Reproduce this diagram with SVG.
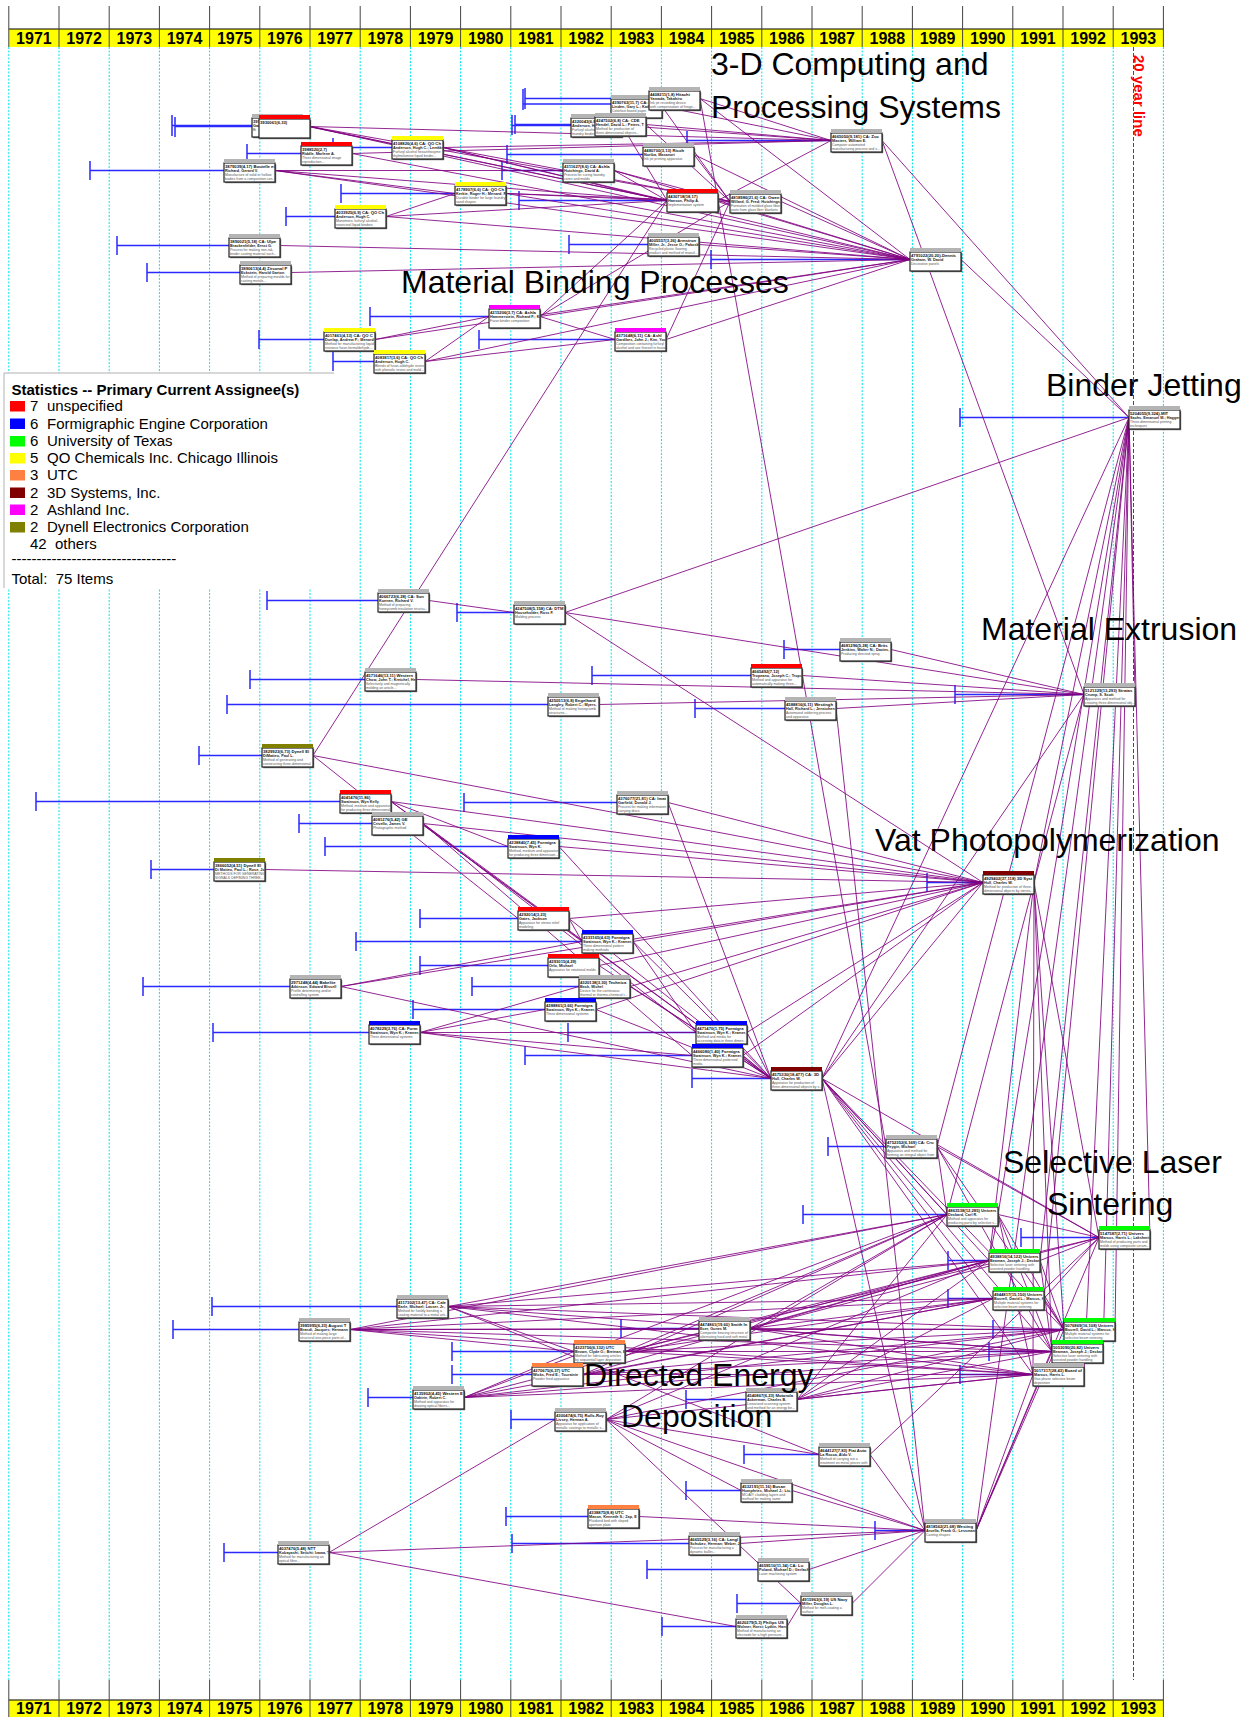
<svg xmlns="http://www.w3.org/2000/svg" width="1247" height="1717" viewBox="0 0 1247 1717">
<style>
.g{stroke:#00e5ee;stroke-width:1;stroke-dasharray:2 1.5}
.tk{stroke:#444;stroke-width:1}
.yr{font:bold 16px "Liberation Sans",Arial,sans-serif;text-anchor:middle;fill:#000}
.c{stroke:#800080;stroke-width:1;stroke-opacity:.85}
.b{stroke:#2a2aff;stroke-width:1.5;fill:none}
.sh{fill:#666}
.bx{fill:#fff;stroke:#222;stroke-width:1.2}
.t1{font:bold 4.2px "Liberation Sans",Arial,sans-serif;fill:#111}
.t2{font:bold 3.8px "Liberation Sans",Arial,sans-serif;fill:#222}
.t3{font:3.5px "Liberation Sans",Arial,sans-serif;fill:#555}
.lab{font:32px "Liberation Sans",Arial,sans-serif;fill:#000}
.lg{font:15px "Liberation Sans",Arial,sans-serif;fill:#000;white-space:pre}
.hr{fill:#ff0000}.hb{fill:#0000ff}.hg{fill:#00ff00}.hy{fill:#ffff00}.ho{fill:#ff8040}.hd{fill:#800000}.hm{fill:#ff00ff}.hv{fill:#808000}.hx{fill:#b4b4b4}
</style>
<defs><clipPath id="cp"><rect x="0" y="4" width="50.5" height="19"/></clipPath></defs>
<rect width="1247" height="1717" fill="#fff"/>
<g id="grid">
<line class="g" x1="8.8" y1="47" x2="8.8" y2="1680"/><line class="g" x1="59" y1="47" x2="59" y2="1680"/><line class="g" x1="109.2" y1="47" x2="109.2" y2="1680"/><line class="g" x1="159.4" y1="47" x2="159.4" y2="1680"/><line class="g" x1="209.6" y1="47" x2="209.6" y2="1680"/><line class="g" x1="259.8" y1="47" x2="259.8" y2="1680"/><line class="g" x1="310" y1="47" x2="310" y2="1680"/><line class="g" x1="360.2" y1="47" x2="360.2" y2="1680"/><line class="g" x1="410.4" y1="47" x2="410.4" y2="1680"/><line class="g" x1="460.6" y1="47" x2="460.6" y2="1680"/><line class="g" x1="510.8" y1="47" x2="510.8" y2="1680"/><line class="g" x1="561" y1="47" x2="561" y2="1680"/><line class="g" x1="611.2" y1="47" x2="611.2" y2="1680"/><line class="g" x1="661.4" y1="47" x2="661.4" y2="1680"/><line class="g" x1="711.6" y1="47" x2="711.6" y2="1680"/><line class="g" x1="761.8" y1="47" x2="761.8" y2="1680"/><line class="g" x1="812" y1="47" x2="812" y2="1680"/><line class="g" x1="862.2" y1="47" x2="862.2" y2="1680"/><line class="g" x1="912.4" y1="47" x2="912.4" y2="1680"/><line class="g" x1="962.6" y1="47" x2="962.6" y2="1680"/><line class="g" x1="1012.8" y1="47" x2="1012.8" y2="1680"/><line class="g" x1="1063" y1="47" x2="1063" y2="1680"/><line class="g" x1="1113.2" y1="47" x2="1113.2" y2="1680"/><line class="g" x1="1163.4" y1="47" x2="1163.4" y2="1680"/>
<line x1="1133.5" y1="47" x2="1133.5" y2="1680" stroke="#ff0000" stroke-width="1" stroke-dasharray="4 2"/>
<text transform="translate(1134,55) rotate(90)" style="font:bold 15px 'Liberation Sans',Arial,sans-serif;fill:#ff0000">20 year line</text>
</g>
<g id="axis-top">
<rect x="8.8" y="29" width="1154.6" height="18" fill="#ffff00"/>
<line x1="8.8" y1="29" x2="1163.4" y2="29" stroke="#000" stroke-width="1.2"/>
<line class="tk" x1="8.8" y1="6" x2="8.8" y2="47"/><line class="tk" x1="59" y1="6" x2="59" y2="47"/><line class="tk" x1="109.2" y1="6" x2="109.2" y2="47"/><line class="tk" x1="159.4" y1="6" x2="159.4" y2="47"/><line class="tk" x1="209.6" y1="6" x2="209.6" y2="47"/><line class="tk" x1="259.8" y1="6" x2="259.8" y2="47"/><line class="tk" x1="310" y1="6" x2="310" y2="47"/><line class="tk" x1="360.2" y1="6" x2="360.2" y2="47"/><line class="tk" x1="410.4" y1="6" x2="410.4" y2="47"/><line class="tk" x1="460.6" y1="6" x2="460.6" y2="47"/><line class="tk" x1="510.8" y1="6" x2="510.8" y2="47"/><line class="tk" x1="561" y1="6" x2="561" y2="47"/><line class="tk" x1="611.2" y1="6" x2="611.2" y2="47"/><line class="tk" x1="661.4" y1="6" x2="661.4" y2="47"/><line class="tk" x1="711.6" y1="6" x2="711.6" y2="47"/><line class="tk" x1="761.8" y1="6" x2="761.8" y2="47"/><line class="tk" x1="812" y1="6" x2="812" y2="47"/><line class="tk" x1="862.2" y1="6" x2="862.2" y2="47"/><line class="tk" x1="912.4" y1="6" x2="912.4" y2="47"/><line class="tk" x1="962.6" y1="6" x2="962.6" y2="47"/><line class="tk" x1="1012.8" y1="6" x2="1012.8" y2="47"/><line class="tk" x1="1063" y1="6" x2="1063" y2="47"/><line class="tk" x1="1113.2" y1="6" x2="1113.2" y2="47"/><line class="tk" x1="1163.4" y1="6" x2="1163.4" y2="47"/>
<text class="yr" x="33.9" y="44">1971</text><text class="yr" x="84.1" y="44">1972</text><text class="yr" x="134.3" y="44">1973</text><text class="yr" x="184.5" y="44">1974</text><text class="yr" x="234.7" y="44">1975</text><text class="yr" x="284.9" y="44">1976</text><text class="yr" x="335.1" y="44">1977</text><text class="yr" x="385.3" y="44">1978</text><text class="yr" x="435.5" y="44">1979</text><text class="yr" x="485.7" y="44">1980</text><text class="yr" x="535.9" y="44">1981</text><text class="yr" x="586.1" y="44">1982</text><text class="yr" x="636.3" y="44">1983</text><text class="yr" x="686.5" y="44">1984</text><text class="yr" x="736.7" y="44">1985</text><text class="yr" x="786.9" y="44">1986</text><text class="yr" x="837.1" y="44">1987</text><text class="yr" x="887.3" y="44">1988</text><text class="yr" x="937.5" y="44">1989</text><text class="yr" x="987.7" y="44">1990</text><text class="yr" x="1037.9" y="44">1991</text><text class="yr" x="1088.1" y="44">1992</text><text class="yr" x="1138.3" y="44">1993</text>
</g>
<g id="axis-bottom">
<rect x="8.8" y="1700" width="1154.6" height="17" fill="#ffff00"/>
<line x1="8.8" y1="1700" x2="1163.4" y2="1700" stroke="#000" stroke-width="1.2"/>
<line class="tk" x1="8.8" y1="1680" x2="8.8" y2="1717"/><line class="tk" x1="59" y1="1680" x2="59" y2="1717"/><line class="tk" x1="109.2" y1="1680" x2="109.2" y2="1717"/><line class="tk" x1="159.4" y1="1680" x2="159.4" y2="1717"/><line class="tk" x1="209.6" y1="1680" x2="209.6" y2="1717"/><line class="tk" x1="259.8" y1="1680" x2="259.8" y2="1717"/><line class="tk" x1="310" y1="1680" x2="310" y2="1717"/><line class="tk" x1="360.2" y1="1680" x2="360.2" y2="1717"/><line class="tk" x1="410.4" y1="1680" x2="410.4" y2="1717"/><line class="tk" x1="460.6" y1="1680" x2="460.6" y2="1717"/><line class="tk" x1="510.8" y1="1680" x2="510.8" y2="1717"/><line class="tk" x1="561" y1="1680" x2="561" y2="1717"/><line class="tk" x1="611.2" y1="1680" x2="611.2" y2="1717"/><line class="tk" x1="661.4" y1="1680" x2="661.4" y2="1717"/><line class="tk" x1="711.6" y1="1680" x2="711.6" y2="1717"/><line class="tk" x1="761.8" y1="1680" x2="761.8" y2="1717"/><line class="tk" x1="812" y1="1680" x2="812" y2="1717"/><line class="tk" x1="862.2" y1="1680" x2="862.2" y2="1717"/><line class="tk" x1="912.4" y1="1680" x2="912.4" y2="1717"/><line class="tk" x1="962.6" y1="1680" x2="962.6" y2="1717"/><line class="tk" x1="1012.8" y1="1680" x2="1012.8" y2="1717"/><line class="tk" x1="1063" y1="1680" x2="1063" y2="1717"/><line class="tk" x1="1113.2" y1="1680" x2="1113.2" y2="1717"/><line class="tk" x1="1163.4" y1="1680" x2="1163.4" y2="1717"/>
<text class="yr" x="33.9" y="1714">1971</text><text class="yr" x="84.1" y="1714">1972</text><text class="yr" x="134.3" y="1714">1973</text><text class="yr" x="184.5" y="1714">1974</text><text class="yr" x="234.7" y="1714">1975</text><text class="yr" x="284.9" y="1714">1976</text><text class="yr" x="335.1" y="1714">1977</text><text class="yr" x="385.3" y="1714">1978</text><text class="yr" x="435.5" y="1714">1979</text><text class="yr" x="485.7" y="1714">1980</text><text class="yr" x="535.9" y="1714">1981</text><text class="yr" x="586.1" y="1714">1982</text><text class="yr" x="636.3" y="1714">1983</text><text class="yr" x="686.5" y="1714">1984</text><text class="yr" x="736.7" y="1714">1985</text><text class="yr" x="786.9" y="1714">1986</text><text class="yr" x="837.1" y="1714">1987</text><text class="yr" x="887.3" y="1714">1988</text><text class="yr" x="937.5" y="1714">1989</text><text class="yr" x="987.7" y="1714">1990</text><text class="yr" x="1037.9" y="1714">1991</text><text class="yr" x="1088.1" y="1714">1992</text><text class="yr" x="1138.3" y="1714">1993</text>
</g>
<g id="legend">
<rect x="4" y="373" width="330" height="215" fill="#fff"/>
<path d="M4 588V373H334" fill="none" stroke="#b0b0b0" stroke-width="1"/>
<text x="11.5" y="395" style="font:bold 15px 'Liberation Sans',Arial,sans-serif">Statistics -- Primary Current Assignee(s)</text>
<rect x="10" y="401" width="15" height="10.5" class="hr"/><text class="lg" x="30" y="411">7</text><text class="lg" x="47" y="411">unspecified</text>
<rect x="10" y="418.5" width="15" height="10.5" class="hb"/><text class="lg" x="30" y="428.5">6</text><text class="lg" x="47" y="428.5">Formigraphic Engine Corporation</text>
<rect x="10" y="436" width="15" height="10.5" class="hg"/><text class="lg" x="30" y="446">6</text><text class="lg" x="47" y="446">University of Texas</text>
<rect x="10" y="453" width="15" height="10.5" class="hy"/><text class="lg" x="30" y="463">5</text><text class="lg" x="47" y="463">QO Chemicals Inc. Chicago Illinois</text>
<rect x="10" y="470" width="15" height="10.5" class="ho"/><text class="lg" x="30" y="480">3</text><text class="lg" x="47" y="480">UTC</text>
<rect x="10" y="487.5" width="15" height="10.5" class="hd"/><text class="lg" x="30" y="497.5">2</text><text class="lg" x="47" y="497.5">3D Systems, Inc.</text>
<rect x="10" y="504.5" width="15" height="10.5" class="hm"/><text class="lg" x="30" y="514.5">2</text><text class="lg" x="47" y="514.5">Ashland Inc.</text>
<rect x="10" y="522" width="15" height="10.5" class="hv"/><text class="lg" x="30" y="532">2</text><text class="lg" x="47" y="532">Dynell Electronics Corporation</text>
<text class="lg" x="30" y="548.5">42</text><text class="lg" x="55" y="548.5">others</text>
<text class="lg" x="11.5" y="563.5">---------------------------------</text>
<text class="lg" x="11.5" y="583.5" xml:space="preserve">Total:  75 Items</text>
</g>
<g id="priority-lines" class="b">
<path d="M172 115V136M172 125.5H252M175 117V137M175 126.5H259M247 144V163M247 153.5H301M333 138V157M333 147.5H392M90 161V180M90 170.5H224M341 184V203M341 193.5H455M286 207V226M286 216.5H335M117 236V255M117 245.5H229M147 263V282M147 272.5H240M370 307V326M370 316.5H489M259 330V349M259 339.5H324M333 352V371M333 361.5H374M479 330V349M479 339.5H615M523 89V110M523 104H611M525 88V109M525 98.5H649M512 115V135M512 125.5H571M515 115V134M515 124.5H595M507 145V164M507 154.5H643M502 161V180M502 170.5H563M519 191V210M519 200.5H667M569 235V254M569 244.5H648M687 131V150M687 140.5H831M711 250V269M711 259.5H910M960 408V427M960 417.5H1129"/>
<path d="M267 591V610M267 600.5H378M457 603V622M457 612.5H514M784 640V659M784 649.5H840M250 670V689M250 679.5H365M592 666V685M592 675.5H751M227 695V714M227 704.5H548M695 699V718M695 708.5H785M955 685V704M955 694.5H1084M199 746V765M199 755.5H262"/>
<path d="M36 792V811M36 801.5H340M299 814V833M299 823.5H372M464 793V812M464 802.5H617M325 837V856M325 846.5H508M151 860V879M151 869.5H214M927 873V892M927 882.5H983M420 909V928M420 918.5H518M356 932V951M356 941.5H582M420 956V975M420 965.5H548M472 977V996M472 986.5H579M143 977V996M143 986.5H290M413 1000V1019M413 1009.5H545M213 1023V1042M213 1032.5H369M568 1023V1042M568 1032.5H696M525 1046V1065M525 1055.5H692M692 1069V1088M692 1078.5H771"/>
<path d="M828 1137V1156M828 1146.5H886M803 1205V1224M803 1214.5H947M1021 1228V1247M1021 1237.5H1099M948 1251V1270M948 1260.5H989M948 1289V1308M948 1298.5H993M993 1320V1339M993 1329.5H1064M989 1342V1361M989 1351.5H1052M960 1365V1384M960 1374.5H1033M212 1297V1316M212 1306.5H397M173 1320V1339M173 1329.5H299M621 1319V1338M621 1328.5H699M452 1342V1361M452 1351.5H574M452 1365V1384M452 1374.5H532M368 1388V1407M368 1397.5H413M686 1390V1409M686 1399.5H746M511 1410V1429M511 1419.5H555M744 1445V1464M744 1454.5H819M686 1481V1500M686 1490.5H741M506 1507V1526M506 1516.5H588M875 1521V1540M875 1530.5H925M512 1534V1553M512 1543.5H689M224 1543V1562M224 1552.5H278M647 1560V1579M647 1569.5H758M737 1594V1613M737 1603.5H801M662 1617V1636M662 1626.5H736"/>
</g>
<g id="connectors" class="c">
<line x1="310" y1="126.5" x2="667" y2="200.5"/><line x1="310" y1="126.5" x2="730" y2="201.5"/><line x1="310" y1="126.5" x2="831" y2="140.5"/><line x1="310" y1="126.5" x2="910" y2="259.5"/><line x1="303" y1="125.5" x2="667" y2="200.5"/>
<line x1="352" y1="153.5" x2="831" y2="140.5"/><line x1="352" y1="153.5" x2="910" y2="259.5"/>
<line x1="443" y1="147.5" x2="831" y2="140.5"/><line x1="443" y1="147.5" x2="667" y2="200.5"/><line x1="443" y1="147.5" x2="730" y2="201.5"/><line x1="443" y1="147.5" x2="910" y2="259.5"/>
<line x1="275" y1="170.5" x2="563" y2="170.5"/><line x1="275" y1="170.5" x2="455" y2="193.5"/><line x1="275" y1="170.5" x2="667" y2="200.5"/><line x1="275" y1="170.5" x2="910" y2="259.5"/>
<line x1="506" y1="193.5" x2="667" y2="200.5"/><line x1="506" y1="193.5" x2="730" y2="201.5"/><line x1="506" y1="193.5" x2="910" y2="259.5"/>
<line x1="386" y1="216.5" x2="455" y2="193.5"/><line x1="386" y1="216.5" x2="910" y2="259.5"/><line x1="386" y1="216.5" x2="667" y2="200.5"/>
<line x1="280" y1="245.5" x2="910" y2="259.5"/><line x1="291" y1="272.5" x2="910" y2="259.5"/>
<line x1="540" y1="316.5" x2="615" y2="339.5"/><line x1="540" y1="316.5" x2="667" y2="200.5"/><line x1="540" y1="316.5" x2="730" y2="201.5"/><line x1="540" y1="316.5" x2="910" y2="259.5"/>
<line x1="375" y1="339.5" x2="489" y2="316.5"/><line x1="375" y1="339.5" x2="910" y2="259.5"/>
<line x1="425" y1="361.5" x2="489" y2="316.5"/><line x1="425" y1="361.5" x2="615" y2="339.5"/><line x1="425" y1="361.5" x2="910" y2="259.5"/>
<line x1="666" y1="339.5" x2="910" y2="259.5"/><line x1="666" y1="339.5" x2="730" y2="201.5"/>
<line x1="662" y1="106.5" x2="831" y2="140.5"/><line x1="662" y1="106.5" x2="730" y2="201.5"/>
<line x1="700" y1="98.5" x2="831" y2="140.5"/><line x1="700" y1="98.5" x2="910" y2="259.5"/>
<line x1="622" y1="125.5" x2="831" y2="140.5"/><line x1="622" y1="125.5" x2="667" y2="200.5"/>
<line x1="646" y1="124.5" x2="831" y2="140.5"/><line x1="646" y1="124.5" x2="730" y2="201.5"/>
<line x1="694" y1="154.5" x2="910" y2="259.5"/><line x1="694" y1="154.5" x2="730" y2="201.5"/>
<line x1="614" y1="170.5" x2="730" y2="201.5"/><line x1="614" y1="170.5" x2="910" y2="259.5"/><line x1="614" y1="170.5" x2="667" y2="200.5"/>
<line x1="718" y1="200.5" x2="831" y2="140.5"/><line x1="718" y1="200.5" x2="910" y2="259.5"/>
<line x1="781" y1="201.5" x2="910" y2="259.5"/><line x1="699" y1="244.5" x2="910" y2="259.5"/>
<line x1="882" y1="140.5" x2="1129" y2="417.5"/><line x1="882" y1="140.5" x2="1084" y2="694.5"/>
<line x1="961" y1="259.5" x2="1129" y2="417.5"/><line x1="700" y1="98.5" x2="886" y2="1146.5"/>
<line x1="565" y1="612.5" x2="1129" y2="417.5"/><line x1="565" y1="612.5" x2="1084" y2="694.5"/><line x1="565" y1="612.5" x2="983" y2="882.5"/>
<line x1="429" y1="600.5" x2="514" y2="612.5"/>
<line x1="313" y1="755.5" x2="667" y2="200.5"/><line x1="313" y1="755.5" x2="983" y2="882.5"/><line x1="313" y1="755.5" x2="518" y2="918.5"/>
<line x1="891" y1="649.5" x2="1084" y2="694.5"/><line x1="416" y1="679.5" x2="1084" y2="694.5"/><line x1="802" y1="675.5" x2="1084" y2="694.5"/><line x1="599" y1="704.5" x2="1084" y2="694.5"/><line x1="836" y1="708.5" x2="1084" y2="694.5"/>
<line x1="836" y1="708.5" x2="925" y2="1530.5"/><line x1="1135" y1="694.5" x2="1129" y2="417.5"/>
<line x1="391" y1="801.5" x2="508" y2="846.5"/><line x1="391" y1="801.5" x2="983" y2="882.5"/><line x1="391" y1="801.5" x2="771" y2="1078.5"/><line x1="391" y1="801.5" x2="582" y2="941.5"/>
<line x1="423" y1="823.5" x2="983" y2="882.5"/><line x1="423" y1="823.5" x2="696" y2="1032.5"/><line x1="423" y1="823.5" x2="692" y2="1055.5"/><line x1="423" y1="823.5" x2="771" y2="1078.5"/>
<line x1="668" y1="802.5" x2="983" y2="882.5"/><line x1="668" y1="802.5" x2="771" y2="1078.5"/>
<line x1="559" y1="846.5" x2="983" y2="882.5"/><line x1="559" y1="846.5" x2="771" y2="1078.5"/>
<line x1="265" y1="869.5" x2="983" y2="882.5"/>
<line x1="569" y1="918.5" x2="983" y2="882.5"/><line x1="569" y1="918.5" x2="582" y2="941.5"/><line x1="569" y1="918.5" x2="771" y2="1078.5"/>
<line x1="633" y1="941.5" x2="983" y2="882.5"/><line x1="633" y1="941.5" x2="771" y2="1078.5"/><line x1="633" y1="941.5" x2="696" y2="1032.5"/>
<line x1="599" y1="965.5" x2="983" y2="882.5"/><line x1="599" y1="965.5" x2="771" y2="1078.5"/>
<line x1="630" y1="986.5" x2="983" y2="882.5"/><line x1="630" y1="986.5" x2="771" y2="1078.5"/>
<line x1="341" y1="986.5" x2="582" y2="941.5"/><line x1="341" y1="986.5" x2="983" y2="882.5"/><line x1="341" y1="986.5" x2="771" y2="1078.5"/>
<line x1="596" y1="1009.5" x2="983" y2="882.5"/><line x1="596" y1="1009.5" x2="771" y2="1078.5"/>
<line x1="420" y1="1032.5" x2="545" y2="1009.5"/><line x1="420" y1="1032.5" x2="579" y2="986.5"/><line x1="420" y1="1032.5" x2="696" y2="1032.5"/><line x1="420" y1="1032.5" x2="692" y2="1055.5"/><line x1="420" y1="1032.5" x2="771" y2="1078.5"/>
<line x1="747" y1="1032.5" x2="983" y2="882.5"/><line x1="747" y1="1032.5" x2="771" y2="1078.5"/>
<line x1="743" y1="1055.5" x2="983" y2="882.5"/><line x1="743" y1="1055.5" x2="771" y2="1078.5"/>
<line x1="822" y1="1078.5" x2="983" y2="882.5"/><line x1="822" y1="1078.5" x2="1129" y2="417.5"/><line x1="822" y1="1078.5" x2="1084" y2="694.5"/><line x1="822" y1="1078.5" x2="925" y2="1530.5"/><line x1="822" y1="1078.5" x2="947" y2="1214.5"/><line x1="822" y1="1078.5" x2="989" y2="1260.5"/><line x1="822" y1="1078.5" x2="993" y2="1298.5"/><line x1="822" y1="1078.5" x2="1064" y2="1329.5"/><line x1="822" y1="1078.5" x2="1052" y2="1351.5"/><line x1="822" y1="1078.5" x2="1033" y2="1374.5"/><line x1="822" y1="1078.5" x2="1099" y2="1237.5"/>
<line x1="1034" y1="882.5" x2="1084" y2="694.5"/><line x1="1034" y1="882.5" x2="1129" y2="417.5"/><line x1="1034" y1="882.5" x2="1099" y2="1237.5"/><line x1="1034" y1="882.5" x2="989" y2="1260.5"/><line x1="1034" y1="882.5" x2="1064" y2="1329.5"/><line x1="1034" y1="882.5" x2="1052" y2="1351.5"/><line x1="1034" y1="882.5" x2="1033" y2="1374.5"/><line x1="1034" y1="882.5" x2="947" y2="1214.5"/>
<line x1="937" y1="1146.5" x2="1099" y2="1237.5"/><line x1="937" y1="1146.5" x2="1129" y2="417.5"/><line x1="937" y1="1146.5" x2="1064" y2="1329.5"/><line x1="937" y1="1146.5" x2="1052" y2="1351.5"/><line x1="937" y1="1146.5" x2="947" y2="1214.5"/>
<line x1="998" y1="1214.5" x2="1099" y2="1237.5"/><line x1="998" y1="1214.5" x2="989" y2="1260.5"/><line x1="998" y1="1214.5" x2="1064" y2="1329.5"/><line x1="998" y1="1214.5" x2="1052" y2="1351.5"/><line x1="998" y1="1214.5" x2="1033" y2="1374.5"/><line x1="998" y1="1214.5" x2="1129" y2="417.5"/>
<line x1="1040" y1="1260.5" x2="1099" y2="1237.5"/><line x1="1040" y1="1260.5" x2="1064" y2="1329.5"/><line x1="1040" y1="1260.5" x2="1052" y2="1351.5"/><line x1="1040" y1="1260.5" x2="1129" y2="417.5"/>
<line x1="1044" y1="1298.5" x2="1064" y2="1329.5"/><line x1="1044" y1="1298.5" x2="1099" y2="1237.5"/><line x1="1044" y1="1298.5" x2="1129" y2="417.5"/>
<line x1="1115" y1="1329.5" x2="1129" y2="417.5"/><line x1="1103" y1="1351.5" x2="1129" y2="417.5"/><line x1="1084" y1="1374.5" x2="1129" y2="417.5"/><line x1="1150" y1="1237.5" x2="1129" y2="417.5"/>
<line x1="448" y1="1306.5" x2="947" y2="1214.5"/><line x1="448" y1="1306.5" x2="989" y2="1260.5"/><line x1="448" y1="1306.5" x2="993" y2="1298.5"/><line x1="448" y1="1306.5" x2="1064" y2="1329.5"/><line x1="448" y1="1306.5" x2="1052" y2="1351.5"/><line x1="448" y1="1306.5" x2="1033" y2="1374.5"/><line x1="448" y1="1306.5" x2="574" y2="1351.5"/><line x1="448" y1="1306.5" x2="819" y2="1454.5"/>
<line x1="350" y1="1329.5" x2="699" y2="1328.5"/><line x1="350" y1="1329.5" x2="574" y2="1351.5"/><line x1="350" y1="1329.5" x2="947" y2="1214.5"/><line x1="350" y1="1329.5" x2="989" y2="1260.5"/><line x1="350" y1="1329.5" x2="993" y2="1298.5"/><line x1="350" y1="1329.5" x2="1064" y2="1329.5"/><line x1="350" y1="1329.5" x2="1052" y2="1351.5"/><line x1="350" y1="1329.5" x2="1033" y2="1374.5"/>
<line x1="750" y1="1328.5" x2="947" y2="1214.5"/><line x1="750" y1="1328.5" x2="989" y2="1260.5"/><line x1="750" y1="1328.5" x2="993" y2="1298.5"/><line x1="750" y1="1328.5" x2="1064" y2="1329.5"/><line x1="750" y1="1328.5" x2="1052" y2="1351.5"/><line x1="750" y1="1328.5" x2="1033" y2="1374.5"/><line x1="750" y1="1328.5" x2="1099" y2="1237.5"/>
<line x1="625" y1="1351.5" x2="947" y2="1214.5"/><line x1="625" y1="1351.5" x2="989" y2="1260.5"/><line x1="625" y1="1351.5" x2="993" y2="1298.5"/><line x1="625" y1="1351.5" x2="1064" y2="1329.5"/><line x1="625" y1="1351.5" x2="1052" y2="1351.5"/><line x1="625" y1="1351.5" x2="1033" y2="1374.5"/><line x1="625" y1="1351.5" x2="1099" y2="1237.5"/>
<line x1="583" y1="1374.5" x2="947" y2="1214.5"/><line x1="583" y1="1374.5" x2="989" y2="1260.5"/><line x1="583" y1="1374.5" x2="993" y2="1298.5"/><line x1="583" y1="1374.5" x2="1064" y2="1329.5"/><line x1="583" y1="1374.5" x2="1052" y2="1351.5"/><line x1="583" y1="1374.5" x2="1033" y2="1374.5"/>
<line x1="464" y1="1397.5" x2="574" y2="1351.5"/><line x1="464" y1="1397.5" x2="947" y2="1214.5"/><line x1="464" y1="1397.5" x2="989" y2="1260.5"/><line x1="464" y1="1397.5" x2="993" y2="1298.5"/><line x1="464" y1="1397.5" x2="1064" y2="1329.5"/><line x1="464" y1="1397.5" x2="1052" y2="1351.5"/><line x1="464" y1="1397.5" x2="1033" y2="1374.5"/>
<line x1="797" y1="1399.5" x2="947" y2="1214.5"/><line x1="797" y1="1399.5" x2="989" y2="1260.5"/><line x1="797" y1="1399.5" x2="993" y2="1298.5"/><line x1="797" y1="1399.5" x2="1064" y2="1329.5"/><line x1="797" y1="1399.5" x2="1052" y2="1351.5"/><line x1="797" y1="1399.5" x2="1033" y2="1374.5"/>
<line x1="606" y1="1419.5" x2="819" y2="1454.5"/><line x1="606" y1="1419.5" x2="741" y2="1490.5"/><line x1="606" y1="1419.5" x2="801" y2="1603.5"/><line x1="606" y1="1419.5" x2="925" y2="1530.5"/><line x1="606" y1="1419.5" x2="947" y2="1214.5"/><line x1="606" y1="1419.5" x2="989" y2="1260.5"/><line x1="606" y1="1419.5" x2="1064" y2="1329.5"/><line x1="606" y1="1419.5" x2="1033" y2="1374.5"/>
<line x1="870" y1="1454.5" x2="925" y2="1530.5"/><line x1="870" y1="1454.5" x2="1099" y2="1237.5"/>
<line x1="792" y1="1490.5" x2="925" y2="1530.5"/><line x1="639" y1="1516.5" x2="925" y2="1530.5"/><line x1="740" y1="1543.5" x2="925" y2="1530.5"/>
<line x1="329" y1="1552.5" x2="555" y2="1419.5"/><line x1="329" y1="1552.5" x2="925" y2="1530.5"/><line x1="329" y1="1552.5" x2="736" y2="1626.5"/>
<line x1="809" y1="1569.5" x2="925" y2="1530.5"/><line x1="852" y1="1603.5" x2="925" y2="1530.5"/><line x1="787" y1="1626.5" x2="801" y2="1603.5"/>
<line x1="976" y1="1530.5" x2="1099" y2="1237.5"/><line x1="976" y1="1530.5" x2="1064" y2="1329.5"/><line x1="976" y1="1530.5" x2="1052" y2="1351.5"/><line x1="976" y1="1530.5" x2="1033" y2="1374.5"/><line x1="976" y1="1530.5" x2="1129" y2="417.5"/>
</g>
<g id="nodes">
<g id="p391" transform="translate(252,114)"><rect class="sh" x="1.2" y="5.2" width="51" height="19"/><rect class="bx" x="0" y="4" width="51" height="19"/><rect class="hx" width="51" height="4"/><g clip-path="url(#cp)"><text class="t1" x="1" y="9">391</text><text class="t2" x="1" y="13.3">Gar</text><text class="t3" x="1" y="17.3">Bi</text></g></g>
<g id="p3930061" transform="translate(259,115)"><rect class="sh" x="1.2" y="5.2" width="51" height="19"/><rect class="bx" x="0" y="4" width="51" height="19"/><rect class="hr" width="51" height="4"/><g clip-path="url(#cp)"><text class="t1" x="1" y="9">3930061(6,33)</text></g></g>
<g id="p3988520" transform="translate(301,142)"><rect class="sh" x="1.2" y="5.2" width="51" height="19"/><rect class="bx" x="0" y="4" width="51" height="19"/><rect class="hr" width="51" height="4"/><g clip-path="url(#cp)"><text class="t1" x="1" y="9">3988520(2,7)</text><text class="t2" x="1" y="13.3">Riddle, Marlene A.</text><text class="t3" x="1" y="17.3">Three dimensional image</text><text class="t3" x="1" y="21">reproduction...</text></g></g>
<g id="p4108826" transform="translate(392,136)"><rect class="sh" x="1.2" y="5.2" width="51" height="19"/><rect class="bx" x="0" y="4" width="51" height="19"/><rect class="hy" width="51" height="4"/><g clip-path="url(#cp)"><text class="t1" x="1" y="9">4108826(4,6) CA: QO Ch</text><text class="t2" x="1" y="13.3">Anderson, Hugh C.; Lemkke</text><text class="t3" x="1" y="17.3">Furfuryl alcohol hexaethoxyme</text><text class="t3" x="1" y="21">thylmelamine liquid binder...</text></g></g>
<g id="p3879039" transform="translate(224,159)"><rect class="sh" x="1.2" y="5.2" width="51" height="19"/><rect class="bx" x="0" y="4" width="51" height="19"/><rect class="hx" width="51" height="4"/><g clip-path="url(#cp)"><text class="t1" x="1" y="9">3879039(4,17) Boutelle et</text><text class="t2" x="1" y="13.3">Richard, Gerard V.</text><text class="t3" x="1" y="17.3">Manufacture of solid or hollow</text><text class="t3" x="1" y="21">bodies from a composition con...</text></g></g>
<g id="p4178907" transform="translate(455,182)"><rect class="sh" x="1.2" y="5.2" width="51" height="19"/><rect class="bx" x="0" y="4" width="51" height="19"/><rect class="hy" width="51" height="4"/><g clip-path="url(#cp)"><text class="t1" x="1" y="9">4178907(6,6) CA: QO Ch</text><text class="t2" x="1" y="13.3">Kerkie, Roger H.; Menard, R.</text><text class="t3" x="1" y="17.3">Durable binder for large foundry</text><text class="t3" x="1" y="21">sand shapes</text></g></g>
<g id="p4033925" transform="translate(335,205)"><rect class="sh" x="1.2" y="5.2" width="51" height="19"/><rect class="bx" x="0" y="4" width="51" height="19"/><rect class="hy" width="51" height="4"/><g clip-path="url(#cp)"><text class="t1" x="1" y="9">4033925(6,9) CA: QO Ch</text><text class="t2" x="1" y="13.3">Anderson, Hugh C.</text><text class="t3" x="1" y="17.3">Monomeric furfuryl alcohol-</text><text class="t3" x="1" y="21">resorcinol liquid binders</text></g></g>
<g id="p3890021" transform="translate(229,234)"><rect class="sh" x="1.2" y="5.2" width="51" height="19"/><rect class="bx" x="0" y="4" width="51" height="19"/><rect class="hx" width="51" height="4"/><g clip-path="url(#cp)"><text class="t1" x="1" y="9">3890021(5,18) CA: Ulpe</text><text class="t2" x="1" y="13.3">Brackenfelder, Ernst G.</text><text class="t3" x="1" y="17.3">Process for making non-tak,</text><text class="t3" x="1" y="21">binder casting material such...</text></g></g>
<g id="p3890613" transform="translate(240,261)"><rect class="sh" x="1.2" y="5.2" width="51" height="19"/><rect class="bx" x="0" y="4" width="51" height="19"/><rect class="hx" width="51" height="4"/><g clip-path="url(#cp)"><text class="t1" x="1" y="9">3890613(4,4) Zirconal P</text><text class="t2" x="1" y="13.3">Eckstein, Harold Garton</text><text class="t3" x="1" y="17.3">Method of preparing moulds for</text><text class="t3" x="1" y="21">casting metals...</text></g></g>
<g id="p4215206" transform="translate(489,305)"><rect class="sh" x="1.2" y="5.2" width="51" height="19"/><rect class="bx" x="0" y="4" width="51" height="19"/><rect class="hm" width="51" height="4"/><g clip-path="url(#cp)"><text class="t1" x="1" y="9">4215206(3,7) CA: Ashla</text><text class="t2" x="1" y="13.3">Hammerstein, Richard F.; Ki</text><text class="t3" x="1" y="17.3">Furan binder composition</text></g></g>
<g id="p4017461" transform="translate(324,328)"><rect class="sh" x="1.2" y="5.2" width="51" height="19"/><rect class="bx" x="0" y="4" width="51" height="19"/><rect class="hy" width="51" height="4"/><g clip-path="url(#cp)"><text class="t1" x="1" y="9">4017461(4,13) CA: QO C</text><text class="t2" x="1" y="13.3">Dunlap, Andrew P.; Menard</text><text class="t3" x="1" y="17.3">Method for manufacturing liquid</text><text class="t3" x="1" y="21">resinous furan-formaldehyde...</text></g></g>
<g id="p4083817" transform="translate(374,350)"><rect class="sh" x="1.2" y="5.2" width="51" height="19"/><rect class="bx" x="0" y="4" width="51" height="19"/><rect class="hy" width="51" height="4"/><g clip-path="url(#cp)"><text class="t1" x="1" y="9">4083817(3,6) CA: QO Ch</text><text class="t2" x="1" y="13.3">Anderson, Hugh C.</text><text class="t3" x="1" y="17.3">Blends of furan-aldehyde resins</text><text class="t3" x="1" y="21">with phenolic resins and mold...</text></g></g>
<g id="p4371648" transform="translate(615,328)"><rect class="sh" x="1.2" y="5.2" width="51" height="19"/><rect class="bx" x="0" y="4" width="51" height="19"/><rect class="hm" width="51" height="4"/><g clip-path="url(#cp)"><text class="t1" x="1" y="9">4371648(6,11) CA: Ashl</text><text class="t2" x="1" y="13.3">Gardikes, John J.; Kim, You</text><text class="t3" x="1" y="17.3">Composition containing furfuryl</text><text class="t3" x="1" y="21">alcohol and use thereof in foundry</text></g></g>
<g id="p4390763" transform="translate(611,95)"><rect class="sh" x="1.2" y="5.2" width="51" height="19"/><rect class="bx" x="0" y="4" width="51" height="19"/><rect class="hx" width="51" height="4"/><g clip-path="url(#cp)"><text class="t1" x="1" y="9">4390763(11,7) CA: Kat</text><text class="t2" x="1" y="13.3">Linden, Gary L.; Kathi</text><text class="t3" x="1" y="17.3">Colorfast based paper</text><text class="t3" x="1" y="21">formulation...</text></g></g>
<g id="p4408211" transform="translate(649,87)"><rect class="sh" x="1.2" y="5.2" width="51" height="19"/><rect class="bx" x="0" y="4" width="51" height="19"/><rect class="hx" width="51" height="4"/><g clip-path="url(#cp)"><text class="t1" x="1" y="9">4408211(1,8) Hitachi</text><text class="t2" x="1" y="13.3">Yamada, Takahiro</text><text class="t3" x="1" y="17.3">Ink jet recording device</text><text class="t3" x="1" y="21">with compensation of fringe...</text></g></g>
<g id="p4320043" transform="translate(571,114)"><rect class="sh" x="1.2" y="5.2" width="51" height="19"/><rect class="bx" x="0" y="4" width="51" height="19"/><rect class="hx" width="51" height="4"/><g clip-path="url(#cp)"><text class="t1" x="1" y="9">4320043(6,8) CA: QO</text><text class="t2" x="1" y="13.3">Anderson, Hugh C.</text><text class="t3" x="1" y="17.3">Furfuryl alcohol-dialdehyde</text><text class="t3" x="1" y="21">foundry binders</text></g></g>
<g id="p4247502" transform="translate(595,113)"><rect class="sh" x="1.2" y="5.2" width="51" height="19"/><rect class="bx" x="0" y="4" width="51" height="19"/><rect class="hx" width="51" height="4"/><g clip-path="url(#cp)"><text class="t1" x="1" y="9">4247502(6,8) CA: CDE</text><text class="t2" x="1" y="13.3">Hendel, David L.; Peters, T</text><text class="t3" x="1" y="17.3">Method for production of</text><text class="t3" x="1" y="21">three-dimensional objects...</text></g></g>
<g id="p4480700" transform="translate(643,143)"><rect class="sh" x="1.2" y="5.2" width="51" height="19"/><rect class="bx" x="0" y="4" width="51" height="19"/><rect class="hx" width="51" height="4"/><g clip-path="url(#cp)"><text class="t1" x="1" y="9">4480700(3,13) Ricoh</text><text class="t2" x="1" y="13.3">Noriba, Masanori</text><text class="t3" x="1" y="17.3">Ink jet printing apparatus</text></g></g>
<g id="p4311627" transform="translate(563,159)"><rect class="sh" x="1.2" y="5.2" width="51" height="19"/><rect class="bx" x="0" y="4" width="51" height="19"/><rect class="hx" width="51" height="4"/><g clip-path="url(#cp)"><text class="t1" x="1" y="9">4311627(8,6) CA: Ashla</text><text class="t2" x="1" y="13.3">Hutchings, David A.</text><text class="t3" x="1" y="17.3">Process for curing foundry</text><text class="t3" x="1" y="21">cores and molds</text></g></g>
<g id="p4430718" transform="translate(667,189)"><rect class="sh" x="1.2" y="5.2" width="51" height="19"/><rect class="bx" x="0" y="4" width="51" height="19"/><rect class="hr" width="51" height="4"/><g clip-path="url(#cp)"><text class="t1" x="1" y="9">4430718(18,17)</text><text class="t2" x="1" y="13.3">Hanson, Philip A.</text><text class="t3" x="1" y="17.3">Implementation system</text></g></g>
<g id="p4818986" transform="translate(730,190)"><rect class="sh" x="1.2" y="5.2" width="51" height="19"/><rect class="bx" x="0" y="4" width="51" height="19"/><rect class="hx" width="51" height="4"/><g clip-path="url(#cp)"><text class="t1" x="1" y="9">4818986(21,6) CA: Owen</text><text class="t2" x="1" y="13.3">Willard, G. Fred; Hutchings,</text><text class="t3" x="1" y="17.3">Formation of molded glass fiber</text><text class="t3" x="1" y="21">parts from glass fiber blankets</text></g></g>
<g id="p4005557" transform="translate(648,233)"><rect class="sh" x="1.2" y="5.2" width="51" height="19"/><rect class="bx" x="0" y="4" width="51" height="19"/><rect class="hx" width="51" height="4"/><g clip-path="url(#cp)"><text class="t1" x="1" y="9">4005557(3,26) Armstron</text><text class="t2" x="1" y="13.3">Miller, Jr., Jesse O.; Pakoski</text><text class="t3" x="1" y="17.3">Recycled plastic flooring</text><text class="t3" x="1" y="21">product and method of manuf...</text></g></g>
<g id="p4665050" transform="translate(831,129)"><rect class="sh" x="1.2" y="5.2" width="51" height="19"/><rect class="bx" x="0" y="4" width="51" height="19"/><rect class="hx" width="51" height="4"/><g clip-path="url(#cp)"><text class="t1" x="1" y="9">4665050(9,181) CA: Zuc</text><text class="t2" x="1" y="13.3">Masters, William E.</text><text class="t3" x="1" y="17.3">Computer automated</text><text class="t3" x="1" y="21">manufacturing process and s...</text></g></g>
<g id="p4791022" transform="translate(910,248)"><rect class="sh" x="1.2" y="5.2" width="51" height="19"/><rect class="bx" x="0" y="4" width="51" height="19"/><rect class="hx" width="51" height="4"/><g clip-path="url(#cp)"><text class="t1" x="1" y="9">4791022(20,20)-Dennis</text><text class="t2" x="1" y="13.3">Graham, W. David</text><text class="t3" x="1" y="17.3">Decorative panels</text></g></g>
<g id="p5204055" transform="translate(1129,406)"><rect class="sh" x="1.2" y="5.2" width="51" height="19"/><rect class="bx" x="0" y="4" width="51" height="19"/><rect class="hx" width="51" height="4"/><g clip-path="url(#cp)"><text class="t1" x="1" y="9">5204055(9,324)-MIT</text><text class="t2" x="1" y="13.3">Sachs, Emanuel M.; Haggert</text><text class="t3" x="1" y="17.3">Three-dimensional printing</text><text class="t3" x="1" y="21">techniques</text></g></g>
<g id="p4066723" transform="translate(378,589)"><rect class="sh" x="1.2" y="5.2" width="51" height="19"/><rect class="bx" x="0" y="4" width="51" height="19"/><rect class="hx" width="51" height="4"/><g clip-path="url(#cp)"><text class="t1" x="1" y="9">4066723(6,28) CA: Sun</text><text class="t2" x="1" y="13.3">Koenen, Richard V.</text><text class="t3" x="1" y="17.3">Method of preparing</text><text class="t3" x="1" y="21">honeycomb insulation structu...</text></g></g>
<g id="p4247508" transform="translate(514,601)"><rect class="sh" x="1.2" y="5.2" width="51" height="19"/><rect class="bx" x="0" y="4" width="51" height="19"/><rect class="hx" width="51" height="4"/><g clip-path="url(#cp)"><text class="t1" x="1" y="9">4247508(5,158) CA: DTM</text><text class="t2" x="1" y="13.3">Householder, Ross F.</text><text class="t3" x="1" y="17.3">Molding process</text></g></g>
<g id="p4681296" transform="translate(840,638)"><rect class="sh" x="1.2" y="5.2" width="51" height="19"/><rect class="bx" x="0" y="4" width="51" height="19"/><rect class="hx" width="51" height="4"/><g clip-path="url(#cp)"><text class="t1" x="1" y="9">4681296(5,28) CA: Brits</text><text class="t2" x="1" y="13.3">Jenkins, Walter N.; Davies,</text><text class="t3" x="1" y="17.3">Producing directed spray</text></g></g>
<g id="p4571646" transform="translate(365,668)"><rect class="sh" x="1.2" y="5.2" width="51" height="19"/><rect class="bx" x="0" y="4" width="51" height="19"/><rect class="hx" width="51" height="4"/><g clip-path="url(#cp)"><text class="t1" x="1" y="9">4571646(13,11) Western</text><text class="t2" x="1" y="13.3">Chow, John T.; Kreichel, He</text><text class="t3" x="1" y="17.3">Selectively and magnetically</text><text class="t3" x="1" y="21">molding an article...</text></g></g>
<g id="p4665492" transform="translate(751,664)"><rect class="sh" x="1.2" y="5.2" width="51" height="19"/><rect class="bx" x="0" y="4" width="51" height="19"/><rect class="hr" width="51" height="4"/><g clip-path="url(#cp)"><text class="t1" x="1" y="9">4665492(7,12)</text><text class="t2" x="1" y="13.3">Tropeano, Joseph C.; Tropo</text><text class="t3" x="1" y="17.3">Method and apparatus for</text><text class="t3" x="1" y="21">automatically making three...</text></g></g>
<g id="p4250513" transform="translate(548,693)"><rect class="sh" x="1.2" y="5.2" width="51" height="19"/><rect class="bx" x="0" y="4" width="51" height="19"/><rect class="hx" width="51" height="4"/><g clip-path="url(#cp)"><text class="t1" x="1" y="9">4250513(6,8) Engelhard</text><text class="t2" x="1" y="13.3">Langley, Robert C.; Myers,</text><text class="t3" x="1" y="17.3">Method of making honeycomb</text><text class="t3" x="1" y="21">structures...</text></g></g>
<g id="p4588816" transform="translate(785,697)"><rect class="sh" x="1.2" y="5.2" width="51" height="19"/><rect class="bx" x="0" y="4" width="51" height="19"/><rect class="hx" width="51" height="4"/><g clip-path="url(#cp)"><text class="t1" x="1" y="9">4588816(6,11) Westingh</text><text class="t2" x="1" y="13.3">Hall, Richard L.; Jenstchen</text><text class="t3" x="1" y="17.3">Automated soldering process</text><text class="t3" x="1" y="21">and apparatus</text></g></g>
<g id="p5121329" transform="translate(1084,683)"><rect class="sh" x="1.2" y="5.2" width="51" height="19"/><rect class="bx" x="0" y="4" width="51" height="19"/><rect class="hx" width="51" height="4"/><g clip-path="url(#cp)"><text class="t1" x="1" y="9">5121329(13,293) Stratas</text><text class="t2" x="1" y="13.3">Crump, S. Scott</text><text class="t3" x="1" y="17.3">Apparatus and method for</text><text class="t3" x="1" y="21">creating three-dimensional obj...</text></g></g>
<g id="p3829923" transform="translate(262,744)"><rect class="sh" x="1.2" y="5.2" width="51" height="19"/><rect class="bx" x="0" y="4" width="51" height="19"/><rect class="hv" width="51" height="4"/><g clip-path="url(#cp)"><text class="t1" x="1" y="9">3829923(6,73) Dynell El</text><text class="t2" x="1" y="13.3">DiMatteo, Paul L.</text><text class="t3" x="1" y="17.3">Method of generating and</text><text class="t3" x="1" y="21">constructing three-dimensional</text></g></g>
<g id="p4041476" transform="translate(340,790)"><rect class="sh" x="1.2" y="5.2" width="51" height="19"/><rect class="bx" x="0" y="4" width="51" height="19"/><rect class="hr" width="51" height="4"/><g clip-path="url(#cp)"><text class="t1" x="1" y="9">4041476(11,86)</text><text class="t2" x="1" y="13.3">Swainson, Wyn Kelly</text><text class="t3" x="1" y="17.3">Method, medium and apparatus</text><text class="t3" x="1" y="21">for producing three dimensional</text></g></g>
<g id="p4081276" transform="translate(372,812)"><rect class="sh" x="1.2" y="5.2" width="51" height="19"/><rect class="bx" x="0" y="4" width="51" height="19"/><rect class="hx" width="51" height="4"/><g clip-path="url(#cp)"><text class="t1" x="1" y="9">4081276(5,42) GE</text><text class="t2" x="1" y="13.3">Crivello, James V.</text><text class="t3" x="1" y="17.3">Photographic method</text></g></g>
<g id="p4376077" transform="translate(617,791)"><rect class="sh" x="1.2" y="5.2" width="51" height="19"/><rect class="bx" x="0" y="4" width="51" height="19"/><rect class="hx" width="51" height="4"/><g clip-path="url(#cp)"><text class="t1" x="1" y="9">4376077(21,81) CA: Imat</text><text class="t2" x="1" y="13.3">Garfield, Donald J.</text><text class="t3" x="1" y="17.3">Process for making information</text><text class="t3" x="1" y="21">carrying discs</text></g></g>
<g id="p4238840" transform="translate(508,835)"><rect class="sh" x="1.2" y="5.2" width="51" height="19"/><rect class="bx" x="0" y="4" width="51" height="19"/><rect class="hb" width="51" height="4"/><g clip-path="url(#cp)"><text class="t1" x="1" y="9">4238840(7,45) Formigra</text><text class="t2" x="1" y="13.3">Swainson, Wyn K.</text><text class="t3" x="1" y="17.3">Method, medium and apparatus</text><text class="t3" x="1" y="21">for producing three dimension...</text></g></g>
<g id="p3866052" transform="translate(214,858)"><rect class="sh" x="1.2" y="5.2" width="51" height="19"/><rect class="bx" x="0" y="4" width="51" height="19"/><rect class="hv" width="51" height="4"/><g clip-path="url(#cp)"><text class="t1" x="1" y="9">3866052(4,51) Dynell El</text><text class="t2" x="1" y="13.3">Di Matteo, Paul L.; Rose, Jo</text><text class="t3" x="1" y="17.3">METHODS FOR GENERATING</text><text class="t3" x="1" y="21">SIGNALS DEFINING THREE...</text></g></g>
<g id="p4929402" transform="translate(983,871)"><rect class="sh" x="1.2" y="5.2" width="51" height="19"/><rect class="bx" x="0" y="4" width="51" height="19"/><rect class="hd" width="51" height="4"/><g clip-path="url(#cp)"><text class="t1" x="1" y="9">4929402(37,118) 3D Syst</text><text class="t2" x="1" y="13.3">Hull, Charles W.</text><text class="t3" x="1" y="17.3">Method for production of three-</text><text class="t3" x="1" y="21">dimensional objects by stereo...</text></g></g>
<g id="p4292014" transform="translate(518,907)"><rect class="sh" x="1.2" y="5.2" width="51" height="19"/><rect class="bx" x="0" y="4" width="51" height="19"/><rect class="hr" width="51" height="4"/><g clip-path="url(#cp)"><text class="t1" x="1" y="9">4292014(3,23)</text><text class="t2" x="1" y="13.3">Gates, Jackson</text><text class="t3" x="1" y="17.3">Apparatus for stereo relief</text><text class="t3" x="1" y="21">modeling</text></g></g>
<g id="p4333165" transform="translate(582,930)"><rect class="sh" x="1.2" y="5.2" width="51" height="19"/><rect class="bx" x="0" y="4" width="51" height="19"/><rect class="hb" width="51" height="4"/><g clip-path="url(#cp)"><text class="t1" x="1" y="9">4333165(4,63) Formigra</text><text class="t2" x="1" y="13.3">Swainson, Wyn K.; Kramer,</text><text class="t3" x="1" y="17.3">Three dimensional pattern</text><text class="t3" x="1" y="21">making methods</text></g></g>
<g id="p4293015" transform="translate(548,954)"><rect class="sh" x="1.2" y="5.2" width="51" height="19"/><rect class="bx" x="0" y="4" width="51" height="19"/><rect class="hr" width="51" height="4"/><g clip-path="url(#cp)"><text class="t1" x="1" y="9">4293015(4,29)</text><text class="t2" x="1" y="13.3">Orlo, Michael</text><text class="t3" x="1" y="17.3">Apparatus for rotational molds</text></g></g>
<g id="p4320138" transform="translate(579,975)"><rect class="sh" x="1.2" y="5.2" width="51" height="19"/><rect class="bx" x="0" y="4" width="51" height="19"/><rect class="hx" width="51" height="4"/><g clip-path="url(#cp)"><text class="t1" x="1" y="9">4320138(3,30) Technica</text><text class="t2" x="1" y="13.3">Beck, Michel</text><text class="t3" x="1" y="17.3">Device for the continuous</text><text class="t3" x="1" y="21">thermal or thermo-chemical t...</text></g></g>
<g id="p2971248" transform="translate(290,975)"><rect class="sh" x="1.2" y="5.2" width="51" height="19"/><rect class="bx" x="0" y="4" width="51" height="19"/><rect class="hx" width="51" height="4"/><g clip-path="url(#cp)"><text class="t1" x="1" y="9">2971248(4,44) Bakelite</text><text class="t2" x="1" y="13.3">Atkinson, Edward Bissell</text><text class="t3" x="1" y="17.3">Profile determining and/or</text><text class="t3" x="1" y="21">controlling system</text></g></g>
<g id="p4288861" transform="translate(545,998)"><rect class="sh" x="1.2" y="5.2" width="51" height="19"/><rect class="bx" x="0" y="4" width="51" height="19"/><rect class="hb" width="51" height="4"/><g clip-path="url(#cp)"><text class="t1" x="1" y="9">4288861(3,66) Formigra</text><text class="t2" x="1" y="13.3">Swainson, Wyn K.; Kramer,</text><text class="t3" x="1" y="17.3">Three dimensional systems</text></g></g>
<g id="p4078229" transform="translate(369,1021)"><rect class="sh" x="1.2" y="5.2" width="51" height="19"/><rect class="bx" x="0" y="4" width="51" height="19"/><rect class="hb" width="51" height="4"/><g clip-path="url(#cp)"><text class="t1" x="1" y="9">4078229(3,76) CA: Form</text><text class="t2" x="1" y="13.3">Swainson, Wyn K.; Kramer, S</text><text class="t3" x="1" y="17.3">Three dimensional systems</text></g></g>
<g id="p4471470" transform="translate(696,1021)"><rect class="sh" x="1.2" y="5.2" width="51" height="19"/><rect class="bx" x="0" y="4" width="51" height="19"/><rect class="hb" width="51" height="4"/><g clip-path="url(#cp)"><text class="t1" x="1" y="9">4471470(1,75) Formigra</text><text class="t2" x="1" y="13.3">Swainson, Wyn K.; Kramer,</text><text class="t3" x="1" y="17.3">Method and media for</text><text class="t3" x="1" y="21">accessing data in three dimen...</text></g></g>
<g id="p4466080" transform="translate(692,1044)"><rect class="sh" x="1.2" y="5.2" width="51" height="19"/><rect class="bx" x="0" y="4" width="51" height="19"/><rect class="hb" width="51" height="4"/><g clip-path="url(#cp)"><text class="t1" x="1" y="9">4466080(1,40) Formigra</text><text class="t2" x="1" y="13.3">Swainson, Wyn K.; Kramer,</text><text class="t3" x="1" y="17.3">Three dimensional patterned</text><text class="t3" x="1" y="21">media</text></g></g>
<g id="p4575330" transform="translate(771,1067)"><rect class="sh" x="1.2" y="5.2" width="51" height="19"/><rect class="bx" x="0" y="4" width="51" height="19"/><rect class="hd" width="51" height="4"/><g clip-path="url(#cp)"><text class="t1" x="1" y="9">4575330(18,477) CA: 3D</text><text class="t2" x="1" y="13.3">Hull, Charles W.</text><text class="t3" x="1" y="17.3">Apparatus for production of</text><text class="t3" x="1" y="21">three-dimensional objects by s...</text></g></g>
<g id="p4752352" transform="translate(886,1135)"><rect class="sh" x="1.2" y="5.2" width="51" height="19"/><rect class="bx" x="0" y="4" width="51" height="19"/><rect class="hx" width="51" height="4"/><g clip-path="url(#cp)"><text class="t1" x="1" y="9">4752352(6,169) CA: Cru</text><text class="t2" x="1" y="13.3">Feygin, Michael</text><text class="t3" x="1" y="17.3">Apparatus and method for</text><text class="t3" x="1" y="21">forming an integral object from</text></g></g>
<g id="p4863538" transform="translate(947,1203)"><rect class="sh" x="1.2" y="5.2" width="51" height="19"/><rect class="bx" x="0" y="4" width="51" height="19"/><rect class="hg" width="51" height="4"/><g clip-path="url(#cp)"><text class="t1" x="1" y="9">4863538(12,285) Univers</text><text class="t2" x="1" y="13.3">Deckard, Carl R.</text><text class="t3" x="1" y="17.3">Method and apparatus for</text><text class="t3" x="1" y="21">producing parts by selective s...</text></g></g>
<g id="p5147587" transform="translate(1099,1226)"><rect class="sh" x="1.2" y="5.2" width="51" height="19"/><rect class="bx" x="0" y="4" width="51" height="19"/><rect class="hg" width="51" height="4"/><g clip-path="url(#cp)"><text class="t1" x="1" y="9">5147587(2,71) Univers</text><text class="t2" x="1" y="13.3">Marcus, Harris L.; Lakshmin</text><text class="t3" x="1" y="17.3">Method of producing parts and</text><text class="t3" x="1" y="21">molds using composite ceram...</text></g></g>
<g id="p4938816" transform="translate(989,1249)"><rect class="sh" x="1.2" y="5.2" width="51" height="19"/><rect class="bx" x="0" y="4" width="51" height="19"/><rect class="hg" width="51" height="4"/><g clip-path="url(#cp)"><text class="t1" x="1" y="9">4938816(14,122) Univers</text><text class="t2" x="1" y="13.3">Beaman, Joseph J.; Deckard</text><text class="t3" x="1" y="17.3">Selective laser sintering with</text><text class="t3" x="1" y="21">assisted powder handling</text></g></g>
<g id="p4944817" transform="translate(993,1287)"><rect class="sh" x="1.2" y="5.2" width="51" height="19"/><rect class="bx" x="0" y="4" width="51" height="19"/><rect class="hg" width="51" height="4"/><g clip-path="url(#cp)"><text class="t1" x="1" y="9">4944817(15,150) Univers</text><text class="t2" x="1" y="13.3">Bourell, David L.; Marcus, H</text><text class="t3" x="1" y="17.3">Multiple material systems for</text><text class="t3" x="1" y="21">selective beam sintering</text></g></g>
<g id="p5076869" transform="translate(1064,1318)"><rect class="sh" x="1.2" y="5.2" width="51" height="19"/><rect class="bx" x="0" y="4" width="51" height="19"/><rect class="hg" width="51" height="4"/><g clip-path="url(#cp)"><text class="t1" x="1" y="9">5076869(16,108) Univers</text><text class="t2" x="1" y="13.3">Bourell, David L.; Marcus, H</text><text class="t3" x="1" y="17.3">Multiple material systems for</text><text class="t3" x="1" y="21">selective beam sintering</text></g></g>
<g id="p5053090" transform="translate(1052,1340)"><rect class="sh" x="1.2" y="5.2" width="51" height="19"/><rect class="bx" x="0" y="4" width="51" height="19"/><rect class="hg" width="51" height="4"/><g clip-path="url(#cp)"><text class="t1" x="1" y="9">5053090(20,82) Univers</text><text class="t2" x="1" y="13.3">Beaman, Joseph J.; Deckard</text><text class="t3" x="1" y="17.3">Selective laser sintering with</text><text class="t3" x="1" y="21">assisted powder handling</text></g></g>
<g id="p5017317" transform="translate(1033,1363)"><rect class="sh" x="1.2" y="5.2" width="51" height="19"/><rect class="bx" x="0" y="4" width="51" height="19"/><rect class="hx" width="51" height="4"/><g clip-path="url(#cp)"><text class="t1" x="1" y="9">5017317(28,43) Board of</text><text class="t2" x="1" y="13.3">Marcus, Harris L.</text><text class="t3" x="1" y="17.3">Gas phase selective beam</text><text class="t3" x="1" y="21">deposition</text></g></g>
<g id="p4117302" transform="translate(397,1295)"><rect class="sh" x="1.2" y="5.2" width="51" height="19"/><rect class="bx" x="0" y="4" width="51" height="19"/><rect class="hx" width="51" height="4"/><g clip-path="url(#cp)"><text class="t1" x="1" y="9">4117302(13,47) CA: Cale</text><text class="t2" x="1" y="13.3">Earle, Michael; Lasser, Jr.,</text><text class="t3" x="1" y="17.3">Method for fusibly bonding a</text><text class="t3" x="1" y="21">coating material to a metal arti...</text></g></g>
<g id="p3985995" transform="translate(299,1318)"><rect class="sh" x="1.2" y="5.2" width="51" height="19"/><rect class="bx" x="0" y="4" width="51" height="19"/><rect class="hx" width="51" height="4"/><g clip-path="url(#cp)"><text class="t1" x="1" y="9">3985995(6,23) August T</text><text class="t2" x="1" y="13.3">Brandi, Jacques; Hermann</text><text class="t3" x="1" y="17.3">Method of making large</text><text class="t3" x="1" y="21">structural one-piece parts of...</text></g></g>
<g id="p4474861" transform="translate(699,1317)"><rect class="sh" x="1.2" y="5.2" width="51" height="19"/><rect class="bx" x="0" y="4" width="51" height="19"/><rect class="hx" width="51" height="4"/><g clip-path="url(#cp)"><text class="t1" x="1" y="9">4474861(19,60) Smith In</text><text class="t2" x="1" y="13.3">Ecer, Gunes M.</text><text class="t3" x="1" y="17.3">Composite bearing structure of</text><text class="t3" x="1" y="21">alternating hard and soft metal</text></g></g>
<g id="p4323756" transform="translate(574,1340)"><rect class="sh" x="1.2" y="5.2" width="51" height="19"/><rect class="bx" x="0" y="4" width="51" height="19"/><rect class="ho" width="51" height="4"/><g clip-path="url(#cp)"><text class="t1" x="1" y="9">4323756(6,132) UTC</text><text class="t2" x="1" y="13.3">Brown, Clyde O.; Breinan, E</text><text class="t3" x="1" y="17.3">Method for fabricating articles</text><text class="t3" x="1" y="21">by sequential layer deposition</text></g></g>
<g id="p4270675" transform="translate(532,1363)"><rect class="sh" x="1.2" y="5.2" width="51" height="19"/><rect class="bx" x="0" y="4" width="51" height="19"/><rect class="ho" width="51" height="4"/><g clip-path="url(#cp)"><text class="t1" x="1" y="9">4270675(6,37) UTC</text><text class="t2" x="1" y="13.3">Wicks, Fred E.; Tourainie</text><text class="t3" x="1" y="17.3">Powder feed apparatus</text></g></g>
<g id="p4135902" transform="translate(413,1386)"><rect class="sh" x="1.2" y="5.2" width="51" height="19"/><rect class="bx" x="0" y="4" width="51" height="19"/><rect class="hx" width="51" height="4"/><g clip-path="url(#cp)"><text class="t1" x="1" y="9">4135902(4,45) Western E</text><text class="t2" x="1" y="13.3">Oaktrie, Robert C.</text><text class="t3" x="1" y="17.3">Method and apparatus for</text><text class="t3" x="1" y="21">drawing optical fibers...</text></g></g>
<g id="p4540867" transform="translate(746,1388)"><rect class="sh" x="1.2" y="5.2" width="51" height="19"/><rect class="bx" x="0" y="4" width="51" height="19"/><rect class="hx" width="51" height="4"/><g clip-path="url(#cp)"><text class="t1" x="1" y="9">4540867(6,23) Motorola</text><text class="t2" x="1" y="13.3">Ackerman, Charles B.</text><text class="t3" x="1" y="17.3">Linearized scanning system</text><text class="t3" x="1" y="21">and method for an energy be...</text></g></g>
<g id="p4300474" transform="translate(555,1408)"><rect class="sh" x="1.2" y="5.2" width="51" height="19"/><rect class="bx" x="0" y="4" width="51" height="19"/><rect class="hx" width="51" height="4"/><g clip-path="url(#cp)"><text class="t1" x="1" y="9">4300474(6,75) Rolls-Roy</text><text class="t2" x="1" y="13.3">Livsey, Herman A.</text><text class="t3" x="1" y="17.3">Apparatus for application of</text><text class="t3" x="1" y="21">metallic coatings to metallic s...</text></g></g>
<g id="p4644127" transform="translate(819,1443)"><rect class="sh" x="1.2" y="5.2" width="51" height="19"/><rect class="bx" x="0" y="4" width="51" height="19"/><rect class="hx" width="51" height="4"/><g clip-path="url(#cp)"><text class="t1" x="1" y="9">4644127(7,83) Fiat Auto</text><text class="t2" x="1" y="13.3">La Rocca, Aldo V.</text><text class="t3" x="1" y="17.3">Method of carrying out a</text><text class="t3" x="1" y="21">treatment on metal pieces with</text></g></g>
<g id="p4532191" transform="translate(741,1479)"><rect class="sh" x="1.2" y="5.2" width="51" height="19"/><rect class="bx" x="0" y="4" width="51" height="19"/><rect class="hx" width="51" height="4"/><g clip-path="url(#cp)"><text class="t1" x="1" y="9">4532191(11,16) Busan</text><text class="t2" x="1" y="13.3">Humphries, Michael J.; Liu,</text><text class="t3" x="1" y="17.3">MCrAlY cladding layers and</text><text class="t3" x="1" y="21">method for making same</text></g></g>
<g id="p4338875" transform="translate(588,1505)"><rect class="sh" x="1.2" y="5.2" width="51" height="19"/><rect class="bx" x="0" y="4" width="51" height="19"/><rect class="ho" width="51" height="4"/><g clip-path="url(#cp)"><text class="t1" x="1" y="9">4338875(8,8) UTC</text><text class="t2" x="1" y="13.3">Mason, Kenneth S.; Zap, E</text><text class="t3" x="1" y="17.3">Fluidized bed with sloped</text><text class="t3" x="1" y="21">aperture plate</text></g></g>
<g id="p4818562" transform="translate(925,1519)"><rect class="sh" x="1.2" y="5.2" width="51" height="19"/><rect class="bx" x="0" y="4" width="51" height="19"/><rect class="hx" width="51" height="4"/><g clip-path="url(#cp)"><text class="t1" x="1" y="9">4818562(21,68) Westing</text><text class="t2" x="1" y="13.3">Arcella, Frank G.; Lessmann</text><text class="t3" x="1" y="17.3">Casting shapes</text></g></g>
<g id="p4665529" transform="translate(689,1532)"><rect class="sh" x="1.2" y="5.2" width="51" height="19"/><rect class="bx" x="0" y="4" width="51" height="19"/><rect class="hx" width="51" height="4"/><g clip-path="url(#cp)"><text class="t1" x="1" y="9">4665529(3,16) CA: Langl</text><text class="t2" x="1" y="13.3">Schubez, Herman; Weber, Jr.,</text><text class="t3" x="1" y="17.3">Process for manufacturing a</text><text class="t3" x="1" y="21">dynamic bullet...</text></g></g>
<g id="p4037476" transform="translate(278,1541)"><rect class="sh" x="1.2" y="5.2" width="51" height="19"/><rect class="bx" x="0" y="4" width="51" height="19"/><rect class="hx" width="51" height="4"/><g clip-path="url(#cp)"><text class="t1" x="1" y="9">4037476(5,48) NTT</text><text class="t2" x="1" y="13.3">Kobayashi, Seiichi; Izawa, T</text><text class="t3" x="1" y="17.3">Method for manufacturing an</text><text class="t3" x="1" y="21">optical fibre...</text></g></g>
<g id="p4659510" transform="translate(758,1558)"><rect class="sh" x="1.2" y="5.2" width="51" height="19"/><rect class="bx" x="0" y="4" width="51" height="19"/><rect class="hx" width="51" height="4"/><g clip-path="url(#cp)"><text class="t1" x="1" y="9">4659510(11,34) CA: Lu</text><text class="t2" x="1" y="13.3">Poland, Michael D.; Gerlach,</text><text class="t3" x="1" y="17.3">Laser machining system</text></g></g>
<g id="p4915963" transform="translate(801,1592)"><rect class="sh" x="1.2" y="5.2" width="51" height="19"/><rect class="bx" x="0" y="4" width="51" height="19"/><rect class="hx" width="51" height="4"/><g clip-path="url(#cp)"><text class="t1" x="1" y="9">4915963(6,19) US Navy</text><text class="t2" x="1" y="13.3">Miller, Douglas L.</text><text class="t3" x="1" y="17.3">Method for melt-coating a</text><text class="t3" x="1" y="21">surface</text></g></g>
<g id="p4620279" transform="translate(736,1615)"><rect class="sh" x="1.2" y="5.2" width="51" height="19"/><rect class="bx" x="0" y="4" width="51" height="19"/><rect class="hx" width="51" height="4"/><g clip-path="url(#cp)"><text class="t1" x="1" y="9">4620279(5,3) Philips US</text><text class="t2" x="1" y="13.3">Wolmer, Horst; Lydtin, Hans</text><text class="t3" x="1" y="17.3">Method of manufacturing an</text><text class="t3" x="1" y="21">electrode for a high pressure...</text></g></g>
</g>
<g id="category-labels">
<text class="lab" x="711" y="75">3-D Computing and</text>
<text class="lab" x="711" y="118">Processing Systems</text>
<text class="lab" x="401" y="293">Material Binding Processes</text>
<text class="lab" x="1046" y="396">Binder Jetting</text>
<text class="lab" x="981" y="640">Material Extrusion</text>
<text class="lab" x="875" y="851">Vat Photopolymerization</text>
<text class="lab" x="1003" y="1173">Selective Laser</text>
<text class="lab" x="1047" y="1215">Sintering</text>
<text class="lab" x="584" y="1386">Directed Energy</text>
<text class="lab" x="621" y="1427">Deposition</text>
</g>
</svg>
